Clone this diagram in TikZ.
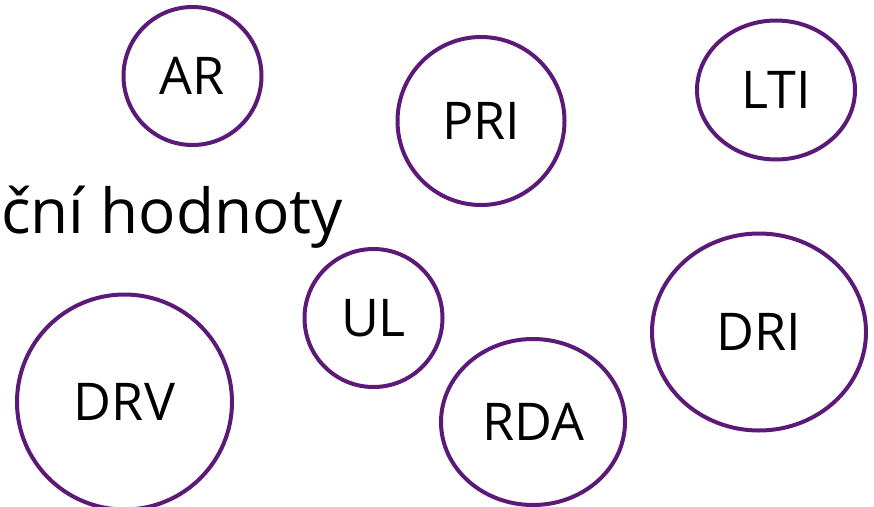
\documentclass[tikz,border=0pt]{standalone}
\usepackage{fontspec}
\setmainfont{Open Sans}
\usetikzlibrary{shapes.geometric}
\definecolor{bubblepurple}{HTML}{5C1A78}

\begin{document}
\begin{tikzpicture}[
  x=1pt, y=-1pt,
  bubble/.style={ellipse, draw=bubblepurple, line width=4pt, inner sep=0pt, font=\fontsize{52}{60}\selectfont},
]
\useasboundingbox (0,0) rectangle (874,506);

% Heading fragment
\node[anchor=base west, inner sep=0pt, font=\fontsize{62}{72}\selectfont] (title) at (1,233) {ční hodnoty};

% Top row
\node[bubble, minimum width=138pt, minimum height=138pt] (ar) at (192.5,76) {AR};
\node[bubble, minimum width=167pt, minimum height=168pt] (pri) at (481,121) {PRI};
\node[bubble, minimum width=158pt, minimum height=139pt] (lti) at (776,90) {LTI};

% Middle
\node[bubble, minimum width=138pt, minimum height=138pt] (ul) at (373.5,318) {UL};
\node[bubble, minimum width=214pt, minimum height=197pt] (dri) at (759,332) {DRI};

% Bottom row
\node[bubble, minimum width=215pt, minimum height=215pt] (drv) at (124.5,402) {DRV};
\node[bubble, minimum width=184pt, minimum height=166pt] (rda) at (533,422) {RDA};

\end{tikzpicture}
\end{document}
